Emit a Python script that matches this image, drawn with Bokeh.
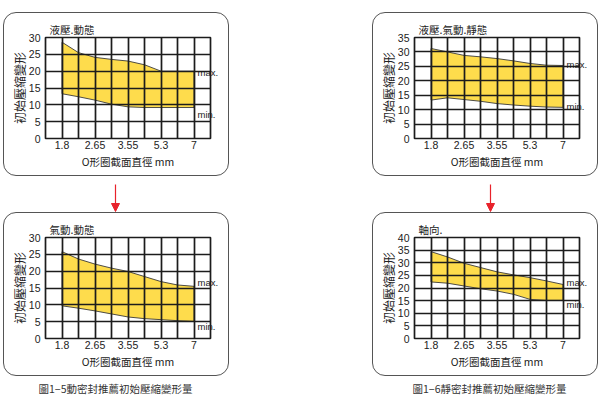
import numpy as np
from bokeh.plotting import figure
from bokeh.layouts import column, row
from bokeh.models import Range1d, FixedTicker, Label, Spacer, Arrow, NormalHead, LinearAxis
from bokeh.embed import file_html
from bokeh.resources import INLINE

# ---------------- data ----------------
diameters = ["1.8", "2.65", "3.55", "5.3", "7"]          # x tick labels (O-ring cross-section, mm)
x_steps = [0, 0.5, 1, 1.5, 2, 2.5, 3, 3.5, 4]            # sample positions along the diameter axis

# 圖1-5 dynamic seals
hyd_dyn_max = [28.6, 25.5, 24.1, 23.5, 23.0, 21.9, 20.0, 20.0, 20.0]
hyd_dyn_min = [13.3, 12.4, 11.4, 10.2, 9.4, 9.2, 9.2, 9.2, 9.2]
pne_dyn_max = [25.8, 23.6, 22.1, 20.9, 19.9, 18.4, 16.9, 15.9, 15.5]
pne_dyn_min = [9.7, 9.0, 8.2, 7.3, 6.4, 5.9, 5.6, 5.3, 5.1]

# 圖1-6 static seals
static_max = [31.2, 30.0, 28.8, 28.3, 27.7, 26.9, 26.0, 25.4, 25.3]
static_min = [13.3, 14.1, 13.5, 12.9, 12.1, 11.6, 11.2, 10.9, 10.8]
axial_max = [34.4, 32.3, 29.8, 28.1, 26.4, 25.2, 24.1, 22.8, 21.4]
axial_min = [22.4, 21.9, 20.8, 19.7, 18.8, 17.5, 15.5, 15.1, 15.1]

panel_titles = ["液壓.動態", "液壓.氣動.靜態", "氣動.動態", "軸向."]
y_label = "初始壓縮變形"
x_label = "O形圈截面直徑 mm"
captions = ["圖1−5動密封推薦初始壓縮變形量", "圖1−6靜密封推薦初始壓縮變形量"]

# ---------------- styles ----------------
YELLOW = "#FEDC4C"
GRID = "#1c1c1c"
TXT = "#222222"
CJK = "Noto Sans CJK TC"
LAT = "Liberation Sans"
RED = "#E8222B"
FW, FH = 226, 164


def panel(title, ymax, maxs, mins, max_lab_y, min_lab_y):
    p = figure(width=FW, height=FH, x_range=Range1d(-0.5, 4.5), y_range=Range1d(0, ymax),
               output_backend="svg", toolbar_location=None,
               min_border_left=42, min_border_right=19, min_border_top=25, min_border_bottom=38)
    p.styles = {"outline": "1.3px solid #555", "outline-offset": "-1.3px", "border-radius": "13px"}
    p.background_fill_color = "white"
    p.border_fill_alpha = 0

    xs = x_steps + x_steps[::-1]
    ys = maxs + mins[::-1]
    p.patch(xs, ys, fill_color=YELLOW, line_color="#3a3a3a", line_width=0.9)

    # grid
    p.xgrid.ticker = FixedTicker(ticks=list(np.arange(-0.5, 4.51, 0.5)))
    p.ygrid.ticker = FixedTicker(ticks=list(range(0, ymax + 1, 5)))
    p.grid.grid_line_color = GRID
    p.grid.grid_line_width = 1.7
    p.grid.grid_line_alpha = 1.0
    p.grid.level = "guide"
    p.outline_line_color = GRID
    p.outline_line_width = 1.7

    # axes
    p.xaxis.ticker = FixedTicker(ticks=list(range(len(diameters))))
    p.xaxis.major_label_overrides = {i: d for i, d in enumerate(diameters)}
    p.yaxis.ticker = FixedTicker(ticks=list(range(0, ymax + 1, 5)))
    p.axis.axis_line_color = None
    p.axis.major_tick_line_color = None
    p.axis.minor_tick_line_color = None
    p.axis.major_tick_out = 0
    p.axis.major_tick_in = 0
    p.axis.minor_tick_out = 0
    p.axis.minor_tick_in = 0
    p.axis.major_label_text_font = LAT
    p.axis.major_label_text_font_size = "10.5px"
    p.axis.major_label_text_color = TXT
    p.xaxis.major_label_standoff = 2
    p.yaxis.major_label_standoff = 5
    p.xaxis.axis_label = x_label
    p.yaxis.axis_label = y_label
    p.axis.axis_label_text_font = CJK
    p.axis.axis_label_text_font_style = "normal"
    p.xaxis.axis_label_text_font_size = "10.5px"
    p.yaxis.axis_label_text_font_size = "12px"
    p.axis.axis_label_text_color = TXT
    p.xaxis.axis_label_standoff = 2
    p.yaxis.axis_label_standoff = -2

    # max./min. markers on a right-hand axis, pulled into the last grid column
    rax = LinearAxis(ticker=FixedTicker(ticks=[max_lab_y, min_lab_y]),
                     major_label_overrides={max_lab_y: "max.", min_lab_y: "min."},
                     axis_line_color=None, major_tick_line_color=None, minor_tick_line_color=None,
                     major_tick_out=0, major_tick_in=0, minor_tick_out=0, minor_tick_in=0,
                     major_label_standoff=-13, major_label_text_font=LAT,
                     major_label_text_font_size="9.5px", major_label_text_color=TXT)
    p.add_layout(rax, "right")

    p.title.text = title
    p.title.text_font = CJK
    p.title.text_font_style = "normal"
    p.title.text_font_size = "10.5px"
    p.title.text_color = TXT
    p.title.align = "left"
    p.title.offset = 4
    p.title.standoff = 1
    return p


p1 = panel(panel_titles[0], 30, hyd_dyn_max, hyd_dyn_min, 19.5, 7.0)
p2 = panel(panel_titles[1], 35, static_max, static_min, 25.8, 11.0)
p3 = panel(panel_titles[2], 30, pne_dyn_max, pne_dyn_min, 16.5, 3.5)
p4 = panel(panel_titles[3], 40, axial_max, axial_min, 22.0, 13.5)

LEFT = 3
GAP = 143
TOTAL_W = LEFT + 2 * FW + GAP

# arrows row
AH = 36
pa = figure(width=TOTAL_W, height=AH, x_range=Range1d(0, TOTAL_W), y_range=Range1d(0, AH),
            output_backend="svg", toolbar_location=None, min_border=0)
pa.axis.visible = False
pa.grid.visible = False
pa.outline_line_color = None
pa.background_fill_alpha = 0
pa.border_fill_alpha = 0
for ax in (115, 490):
    pa.add_layout(Arrow(x_start=ax, y_start=AH - 8, x_end=ax, y_end=1,
                        line_color=RED, line_width=1.2,
                        end=NormalHead(size=8, fill_color=RED, line_color=RED)))

# captions row
CH = 26
pc = figure(width=TOTAL_W, height=CH, x_range=Range1d(0, TOTAL_W), y_range=Range1d(0, CH),
            output_backend="svg", toolbar_location=None, min_border=0)
pc.axis.visible = False
pc.grid.visible = False
pc.outline_line_color = None
pc.background_fill_alpha = 0
pc.border_fill_alpha = 0
for cx, ctext in zip((38, 412), captions):
    pc.add_layout(Label(x=cx, y=CH - 12, text=ctext, text_align="left", text_baseline="middle",
                        text_font=CJK, text_font_size="10.5px", text_color="#333333"))

layout = column(
    Spacer(height=12),
    row(Spacer(width=LEFT), p1, Spacer(width=GAP), p2),
    pa,
    row(Spacer(width=LEFT), p3, Spacer(width=GAP), p4),
    pc,
)

open("out.html", "w").write(file_html(layout, INLINE))
